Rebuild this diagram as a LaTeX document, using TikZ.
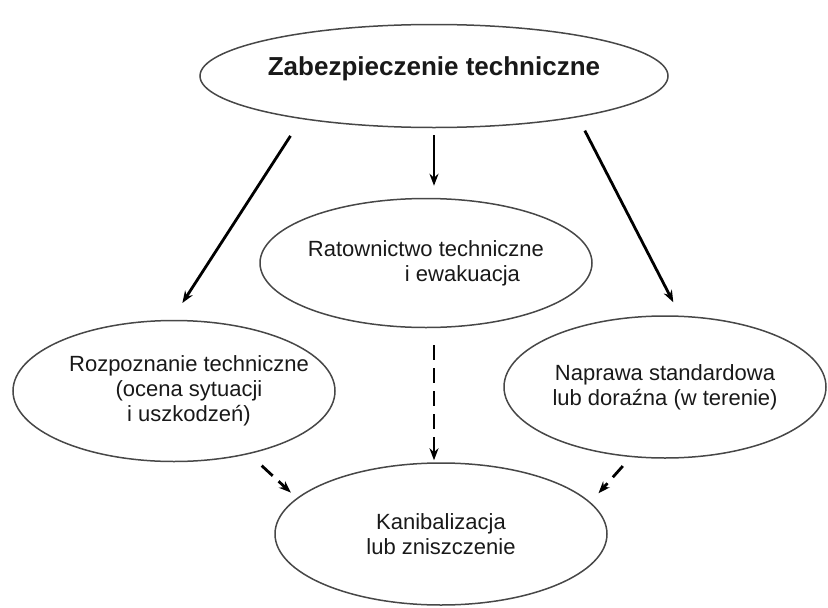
\documentclass[tikz,border=0pt]{standalone}
\usepackage{fontspec}
\setmainfont{Liberation Sans}
\usetikzlibrary{arrows.meta, shapes.geometric}

\begin{document}
\begin{tikzpicture}[
            x=1pt, y=-1pt,
            every node/.style={draw=black!72, line width=1.5pt, ellipse, inner xsep=-30pt, inner ysep=0pt,
                text=black!90, font=\fontsize{22}{25}\selectfont, align=center},
            >={Stealth[length=12pt, width=9pt]},
            arr/.style={->, line width=2.8pt},
            darr/.style={arr, dash pattern=on 15pt off 8pt}
        ]
            \useasboundingbox (0,0) rectangle (828,608);
            \node[minimum width=468pt, minimum height=103pt, font=\bfseries\fontsize{26}{30}\selectfont, text depth=20pt] (zab) at (434,76) {Zabezpieczenie techniczne};
            \node[minimum width=332pt, minimum height=129pt, align=left] (rat) at (426,263) {Ratownictwo techniczne\\\hspace*{97pt}i ewakuacja};
            \node[minimum width=322pt, minimum height=141pt] (roz) at (174,391) {\hspace*{30pt}Rozpoznanie techniczne\\\hspace*{30pt}(ocena sytuacji\\\hspace*{30pt}i uszkodzeń)};
            \node[minimum width=322pt, minimum height=142pt] (nap) at (665,387) {Naprawa standardowa\\lub doraźna (w terenie)};
            \node[minimum width=332pt, minimum height=142pt] (kan) at (441,534) {Kanibalizacja\\lub zniszczenie};
            % solid arrows from the top
            \draw[arr, shorten <=20pt, shorten >=20pt] (zab.198) -- (roz.92);
            \draw[arr, shorten <=7pt, shorten >=12pt] (zab.south) -- (zab.south |- rat.north);
            \draw[arr, shorten <=15pt, shorten >=15pt] (zab.344) -- (nap.78);
            % dashed arrows to the bottom
            \draw[darr, shorten <=17pt, shorten >=8pt] (roz.320) -- (kan.166);
            \draw[darr, shorten <=17pt, shorten >=2pt] (zab.south |- rat.south) -- (zab.south |- kan.north);
            \draw[darr, shorten <=12pt, shorten >=12pt] (nap.244) -- (kan.12);
        \end{tikzpicture}
\end{document}
